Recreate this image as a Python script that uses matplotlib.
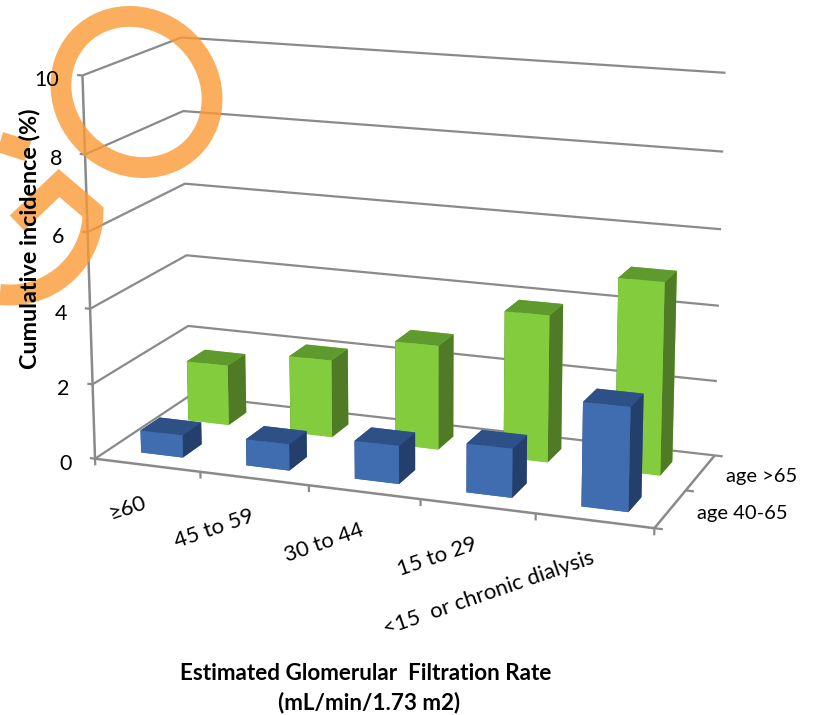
import numpy as np
import matplotlib
matplotlib.use('Agg')
import matplotlib.pyplot as plt
from matplotlib.patches import Ellipse
from mpl_toolkits.mplot3d import proj3d

plt.rcParams['font.family'] = ['Lato', 'DejaVu Sans']

categories = ['≥60', '45 to 59', '30 to 44', '15 to 29', '<15  or chronic dialysis']
series_names = ['age 40-65', 'age >65']
age_40_65 = [0.6, 0.7, 1.0, 1.27, 2.67]
age_over_65 = [1.65, 2.1, 2.8, 3.9, 5.05]
value_ticks = [0, 2, 4, 6, 8, 10]

GRID = '#8a8a8a'
BAR_W = 0.4
GAP = 0.3

W, H = 813, 715
fig = plt.figure(figsize=(W / 100, H / 100), dpi=100)
S = 723.3
ax = fig.add_axes([33.33 / W, 74.45 / H, S / W, S / H], projection='3d')
ax.patch.set_alpha(0)
ax.set_axis_off()
ax.computed_zorder = False
ax.set_xlim(0, 5)
ax.set_ylim(0, 2)
ax.set_zlim(0, 10)
ax.set_proj_type('persp', focal_length=0.7013)
ax.view_init(elev=14.794, azim=-69.354, roll=0.135)
ax.set_box_aspect((1, 0.38755, 0.67278))


def line(xs, ys, zs, lw=1.6):
    ax.plot(xs, ys, zs, color=GRID, lw=lw, zorder=1, solid_capstyle='butt', clip_on=False)


# walls and floor
for v in value_ticks:
    line([0, 0, 5], [0, 2, 2], [v, v, v])
    line([-0.05, 0], [0, 0], [v, v])
line([0, 0], [0, 0], [0, 10], lw=1.8)
line([0, 5, 5], [0, 0, 2], [0, 0, 0], lw=1.8)
for i in range(6):
    line([i, i], [0, 0], [-0.18, 0])
for d in range(3):
    line([5, 5.07], [d, d], [0, 0])


def bars(values, depth, front, top, side, z):
    x = np.arange(len(values)) + GAP
    y = np.full(len(values), depth + GAP)
    # face order in bar3d: bottom, top, front, back, left, right
    faces = [front, top, front, front, side, side] * len(values)
    ax.bar3d(x, y, np.zeros(len(values)), BAR_W, BAR_W, values, color=faces,
             shade=False, zorder=z, linewidth=0)


bars(age_over_65, 1, '#82CC3E', '#5F9A2E', '#4F7A26', 2)
bars(age_40_65, 0, '#3F6DB0', '#2D5186', '#243F6C', 3)

# overlay in pixel units for labels, titles and highlight marks
over = fig.add_axes([0, 0, 1, 1], zorder=5)
over.set_xlim(0, W)
over.set_ylim(H, 0)
over.axis('off')
over.patch.set_alpha(0)


def to_px(x, y, z):
    px, py, _ = proj3d.proj_transform(x, y, z, ax.get_proj())
    return over.transData.inverted().transform(ax.transData.transform((px, py)))


for v in value_ticks:
    tx, ty = to_px(0, 0, v)
    over.text(tx - 23, ty + 5, str(v), ha='right', va='center', fontsize=15.5)
for i, c in enumerate(categories):
    tx, ty = to_px(i + 0.5, 0, 0)
    over.text(tx - 1, ty + 37, c, ha='right', va='center', rotation=19, rotation_mode='anchor',
              fontsize=15.8)
for d, name in enumerate(series_names):
    tx, ty = to_px(5.22, d + 0.5, 0)
    over.text(tx, ty + 1, name, ha='left', va='center', fontsize=14.5)

over.text(30, 239, 'Cumulative incidence (%)', rotation=90, ha='center', va='center',
          fontsize=16.8, fontweight='bold')
over.text(366, 673, 'Estimated Glomerular  Filtration Rate', ha='center', va='center',
          fontsize=16.2, fontweight='bold')
over.text(369, 703, '(mL/min/1.73 m2)', ha='center', va='center', fontsize=16.2, fontweight='bold')

ORANGE = '#FB9A36'
over.add_patch(Ellipse((136.5, 92), 158, 144, angle=45, fill=False, ec=ORANGE, lw=15, alpha=0.8))

# arrow-like hook: chevron running into a circular arc
arc = np.radians(np.linspace(0, 97, 30))
hook_x = np.r_[17, 59, 10 + 83 * np.cos(arc)]
hook_y = np.r_[223, 183, 212 + 83 * np.sin(arc)]
over.plot(hook_x, hook_y, color=ORANGE, lw=15, alpha=0.8, solid_joinstyle='miter', solid_capstyle='butt')
over.plot([0, 28], [142, 151], color=ORANGE, lw=15, alpha=0.8, solid_capstyle='butt')

fig.savefig('out.png', dpi=100)
